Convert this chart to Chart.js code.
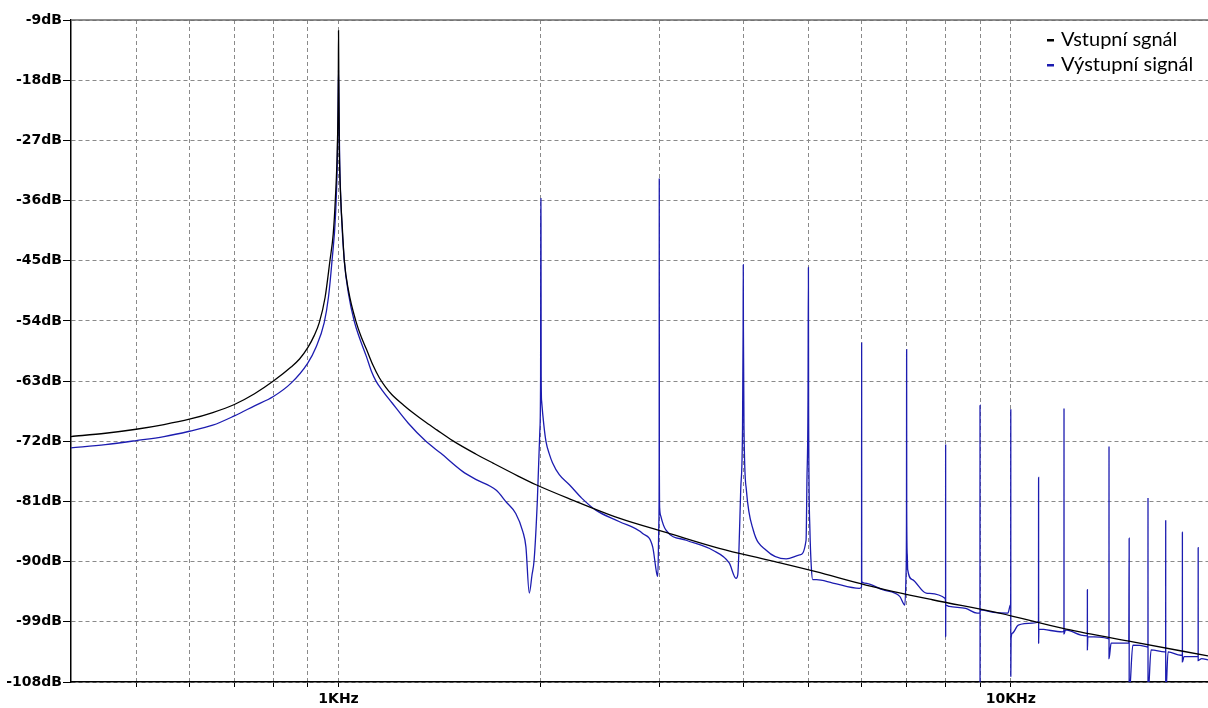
<!DOCTYPE html>
<html>
<head>
<meta charset="utf-8">
<script src="https://cdn.jsdelivr.net/npm/chart.js@4.4.1/dist/chart.umd.min.js"></script>
<style>
  body { margin: 0; background: #fff; }
  #wrap { width: 1208px; height: 708px; position: relative; }
</style>
</head>
<body>
<div id="wrap"><canvas id="fft"></canvas></div>
<script>
// frequency range and axis ticks
const freqMin = 400;
const freqMax = 19650;
const gridFreqs = [500, 600, 700, 800, 900, 1000, 2000, 3000, 4000, 5000, 6000, 7000, 8000, 9000, 10000];
const freqLabels = { 1000: "1KHz", 10000: "10KHz" };
const dbMin = -108;
const dbMax = -9;
const dbStep = 9;

const seriesNames = ["Vstupní sgnál", "Výstupní signál"];
const seriesColors = ["#000000", "#1c1cb0"];

// input signal (black)
const inputFreq = [400, 450, 500, 550, 600, 650, 700, 750, 800, 850, 875, 900, 920, 936, 955, 971, 982, 989, 996.5, 999.3,
  1000, 1001, 1002.5, 1008, 1013, 1020, 1035, 1061, 1080, 1100, 1125, 1150, 1175, 1200, 1250, 1289, 1350, 1400, 1478, 1600, 1700, 1850, 1967,
  2205, 2614, 3110, 3684, 4376, 5130, 6088, 7646, 9620, 12090, 15190, 19650];
const inputDb = [-71.3, -70.8, -70.2, -69.5, -68.7, -67.7, -66.5, -64.9, -63.0, -60.9, -59.7, -58.0, -56.2, -54.3, -50.5, -45, -41, -36, -27, -18,
  -10.6, -18, -27, -36, -40, -45, -49.5, -54, -56.3, -58.2, -60.6, -62.5, -63.9, -65.0, -66.6, -67.7, -69.2, -70.3, -71.9, -73.9, -75.3, -77.2, -78.5,
  -80.6, -83.5, -85.8, -88.0, -89.8, -91.5, -93.5, -95.7, -97.7, -100.1, -102.0, -104.1];

// output signal (blue)
const outputFreq = [400, 450, 500, 550, 600, 650, 700, 750, 800, 850, 900, 925, 952, 966, 978, 990, 996, 998.5,
  1000, 1001.5, 1004, 1010, 1020, 1035, 1055, 1075, 1100, 1120, 1137, 1160, 1200, 1270, 1349, 1420, 1529, 1600, 1715, 1780, 1835, 1880, 1900, 1922, 1940, 1954, 1976, 1993, 1998, 1999.3,
  2000, 2000.7, 2002, 2005, 2020, 2035, 2060, 2081, 2130, 2205, 2300, 2414, 2614, 2834, 2933, 2973, 2985, 2996, 2999,
  3000, 3001, 3004, 3018, 3070, 3290, 3604, 3812, 3902, 3925, 3940, 3965, 3990, 3998,
  4000, 4002, 4010, 4043, 4140, 4327, 4634, 4852, 4960, 4975, 4993,
  5000, 5003, 5025, 5050, 5074, 5140, 5436, 5954, 5998,
  6000, 6002, 6058, 6446, 6836, 6957, 6985, 6996,
  7000, 7002, 7015, 7025, 7141, 7484, 7989, 7999,
  8000, 8001, 8003, 8100, 8570, 8910, 8998,
  9000, 9001, 9003, 9420, 9900, 9985, 9998,
  10000, 10001, 10010, 10060, 10260, 10770, 10995,
  11000, 11001, 11010, 11930, 11998,
  12000, 12001, 12060, 12720, 12998,
  13000, 13001, 13020, 13960, 13998,
  14000, 14001, 14100, 14980,
  15000, 15001, 15190, 15900, 15998,
  16000, 16001, 16170, 16940, 16998,
  17000, 17001, 17140, 17900, 17998,
  18000, 18001, 18100, 18998,
  19000, 19001, 19230, 19650];
const outputDb = [-73.0, -72.5, -71.9, -71.3, -70.5, -69.6, -68.2, -66.7, -65.3, -63.3, -60.3, -58.0, -54.3, -50.5, -45, -38, -30, -22,
  -16.5, -22, -30, -38, -45, -50, -54, -56.6, -59.3, -61.6, -63, -64.3, -66.2, -69.3, -72, -73.8, -76.5, -77.7, -79.3, -81.2, -82.8, -85.5, -87.8, -94.7, -92, -89.8, -80.8, -70.3, -62.3, -38.9,
  -35.7, -38.9, -62.3, -66, -69.5, -72, -74, -75.2, -77, -78.5, -80.5, -82.3, -84.0, -85.8, -87.8, -91.7, -92.2, -84, -75.8,
  -32.7, -75.8, -82, -83.3, -85.3, -86.8, -88.3, -90.2, -92.5, -92.0, -88.7, -79.3, -70, -55,
  -45.6, -55, -70, -79.3, -85.3, -88.3, -89.6, -89.0, -86.8, -77.8, -65.8,
  -46.0, -65.8, -85, -90.8, -92.7, -92.7, -93.2, -94.0, -93.8,
  -57.3, -93.0, -93.2, -94.2, -95.2, -96.5, -92, -84,
  -58.3, -82.5, -89, -91.2, -92.7, -94.7, -95.5, -96,
  -72.5, -101.2, -96.5, -96.7, -97.0, -97.7, -97.7,
  -66.6, -110, -97.2, -97.6, -97.7, -96.5, -94,
  -67.2, -107.2, -101.5, -100.7, -99.5, -99.2, -99.0,
  -77.4, -102.2, -100.1, -100.5, -100.3,
  -67.1, -100.8, -100.2, -101.0, -101.1,
  -94.2, -103.2, -101.2, -101.5, -101.6,
  -72.8, -104.5, -102.2, -102.2,
  -86.5, -110, -102.5, -102.7, -102.8,
  -80.5, -110, -103.2, -103.5, -103.5,
  -83.8, -110, -103.5, -104.0, -104.0,
  -85.6, -105, -104.2, -104.2,
  -87.9, -104.8, -104.5, -104.7];

function toPoints(xs, ys) {
  return xs.map((x, i) => ({ x: x, y: ys[i] }));
}

// solid frame line at the top + legend text
const framePlugin = {
  id: "frame",
  afterDraw(chart) {
    const ctx = chart.ctx;
    const area = chart.chartArea;
    ctx.save();
    ctx.strokeStyle = "#6a6a6a";
    ctx.lineWidth = 1.5;
    ctx.beginPath();
    ctx.moveTo(area.left, area.top);
    ctx.lineTo(area.right, area.top);
    ctx.stroke();

    ctx.font = "20px Lato";
    ctx.textBaseline = "alphabetic";
    seriesNames.forEach((name, i) => {
      const y = 46 + i * 25;
      ctx.fillStyle = seriesColors[i];
      ctx.fillRect(area.right - 161, y - 7, 7, 2.5);
      ctx.fillStyle = "#000";
      ctx.fillText(name, area.right - 147, y);
    });
    ctx.restore();
  }
};

const tickFont = { family: "DejaVu Sans", size: 14, weight: "bold" };

const config = {
  type: "scatter",
  data: {
    datasets: [
      {
        label: seriesNames[0],
        data: toPoints(inputFreq, inputDb),
        showLine: true,
        borderColor: seriesColors[0],
        borderWidth: 1.3,
        pointRadius: 0,
        cubicInterpolationMode: "monotone"
      },
      {
        label: seriesNames[1],
        data: toPoints(outputFreq, outputDb),
        showLine: true,
        borderColor: seriesColors[1],
        borderWidth: 1.3,
        pointRadius: 0,
        cubicInterpolationMode: "monotone"
      }
    ]
  },
  options: {
    animation: false,
    responsive: true,
    maintainAspectRatio: false,
    layout: { padding: { top: 20, right: 0, left: 0, bottom: 0 } },
    plugins: {
      legend: { display: false },
      tooltip: { enabled: false }
    },
    scales: {
      x: {
        type: "logarithmic",
        min: freqMin,
        max: freqMax,
        afterBuildTicks: (scale) => {
          scale.ticks = gridFreqs.map((v) => ({ value: v }));
        },
        afterFit: (scale) => { scale.height = 26; },
        ticks: {
          autoSkip: false,
          maxRotation: 0,
          padding: 4,
          color: "#000",
          font: tickFont,
          callback: (v) => freqLabels[v] || ""
        },
        grid: {
          color: "#8a8a8a",
          lineWidth: 1,
          tickLength: 5,
          tickColor: "#000"
        },
        border: { color: "#000", width: 1.5, dash: [4, 3] }
      },
      y: {
        min: dbMin,
        max: dbMax,
        afterFit: (scale) => { scale.width = 71; },
        ticks: {
          stepSize: dbStep,
          padding: 1,
          color: "#000",
          font: tickFont,
          callback: (v) => v + "dB"
        },
        grid: {
          color: "#8a8a8a",
          lineWidth: 1,
          tickLength: 8,
          tickColor: "#000"
        },
        border: { color: "#000", width: 1.5, dash: [4, 3] }
      }
    }
  },
  plugins: [framePlugin]
};

const fftChart = new Chart(document.getElementById("fft"), config);
</script>
</body>
</html>
